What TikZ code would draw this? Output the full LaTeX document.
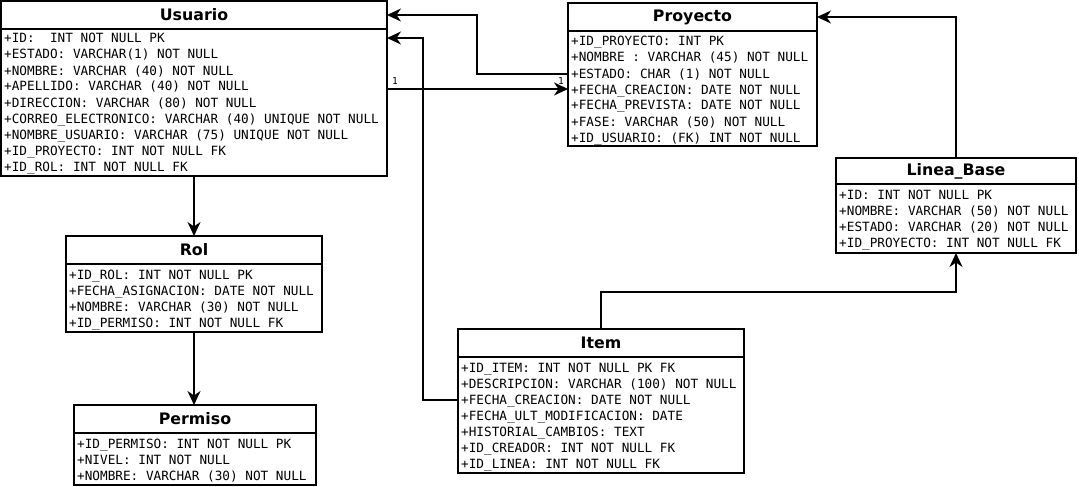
\documentclass[tikz,border=0pt]{standalone}
\usepackage{fontspec}
\setmainfont{DejaVu Sans}
\setsansfont{DejaVu Sans}
\setmonofont{DejaVu Sans Mono}
\usetikzlibrary{arrows.meta,calc}
\begin{document}
\begin{tikzpicture}[x=1pt,y=-1pt,
  box/.style={draw, line width=2pt, anchor=north west, inner sep=0pt, outer sep=0pt},
  ttl/.style={font=\fontsize{15.8}{18}\selectfont\bfseries},
  row/.style={anchor=base west, inner sep=0pt, font=\fontsize{12.7}{16}\selectfont\ttfamily},
  conn/.style={line width=2pt, -{Stealth[length=14pt,width=13pt,inset=4.5pt]}},
  card/.style={font=\fontsize{9.5}{10}\selectfont\ttfamily, inner sep=0pt}]
\useasboundingbox (0,0) rectangle (1079,487);

% Usuario
\node[box, ttl, minimum width=386pt, minimum height=28pt] (usuT) at (1,1) {Usuario};
\node[box, minimum width=386pt, minimum height=147pt] (usuB) at (usuT.south west) {};
\foreach \t [count=\i from 0] in {
  {+ID:\ \ INT NOT NULL PK},
  {+ESTADO: VARCHAR(1) NOT NULL},
  {+NOMBRE: VARCHAR (40) NOT NULL},
  {+APELLIDO: VARCHAR (40) NOT NULL},
  {+DIRECCION: VARCHAR (80) NOT NULL},
  {+CORREO\_ELECTRONICO: VARCHAR (40) UNIQUE NOT NULL},
  {+NOMBRE\_USUARIO: VARCHAR (75) UNIQUE NOT NULL},
  {+ID\_PROYECTO: INT NOT NULL FK},
  {+ID\_ROL: INT NOT NULL FK}}
  \node[row] (usu\i) at ($(usuB.north west)+(3,14+16*\i)$) {\t};

% Proyecto
\node[box, ttl, minimum width=249pt, minimum height=28pt] (proyT) at (568,3) {Proyecto};
\node[box, minimum width=249pt, minimum height=115pt] (proyB) at (proyT.south west) {};
\foreach \t [count=\i from 0] in {
  {+ID\_PROYECTO: INT PK},
  {+NOMBRE : VARCHAR (45) NOT NULL},
  {+ESTADO: CHAR (1) NOT NULL},
  {+FECHA\_CREACION: DATE NOT NULL},
  {+FECHA\_PREVISTA: DATE NOT NULL},
  {+FASE: VARCHAR (50) NOT NULL},
  {+ID\_USUARIO: (FK) INT NOT NULL}}
  \node[row] (proy\i) at ($(proyB.north west)+(3,15+16*\i)$) {\t};

% Linea_Base
\node[box, ttl, minimum width=240pt, minimum height=26pt] (linT) at (836,158) {Linea\_Base};
\node[box, minimum width=240pt, minimum height=69pt] (linB) at (linT.south west) {};
\foreach \t [count=\i from 0] in {
  {+ID: INT NOT NULL PK},
  {+NOMBRE: VARCHAR (50) NOT NULL},
  {+ESTADO: VARCHAR (20) NOT NULL},
  {+ID\_PROYECTO: INT NOT NULL FK}}
  \node[row] (lin\i) at ($(linB.north west)+(3,15+16*\i)$) {\t};

% Rol
\node[box, ttl, minimum width=256pt, minimum height=28pt] (rolT) at (66,236) {Rol};
\node[box, minimum width=256pt, minimum height=68pt] (rolB) at (rolT.south west) {};
\foreach \t [count=\i from 0] in {
  {+ID\_ROL: INT NOT NULL PK},
  {+FECHA\_ASIGNACION: DATE NOT NULL},
  {+NOMBRE: VARCHAR (30) NOT NULL},
  {+ID\_PERMISO: INT NOT NULL FK}}
  \node[row] (rol\i) at ($(rolB.north west)+(3,15+16*\i)$) {\t};

% Permiso
\node[box, ttl, minimum width=242pt, minimum height=28pt] (perT) at (74,405) {Permiso};
\node[box, minimum width=242pt, minimum height=52pt] (perB) at (perT.south west) {};
\foreach \t [count=\i from 0] in {
  {+ID\_PERMISO: INT NOT NULL PK},
  {+NIVEL: INT NOT NULL},
  {+NOMBRE: VARCHAR (30) NOT NULL}}
  \node[row] (per\i) at ($(perB.north west)+(3,15+16*\i)$) {\t};

% Item
\node[box, ttl, minimum width=286pt, minimum height=28pt] (itemT) at (458,329) {Item};
\node[box, minimum width=286pt, minimum height=116pt] (itemB) at (itemT.south west) {};
\foreach \t [count=\i from 0] in {
  {+ID\_ITEM: INT NOT NULL PK FK},
  {+DESCRIPCION: VARCHAR (100) NOT NULL},
  {+FECHA\_CREACION: DATE NOT NULL},
  {+FECHA\_ULT\_MODIFICACION: DATE},
  {+HISTORIAL\_CAMBIOS: TEXT},
  {+ID\_CREADOR: INT NOT NULL FK},
  {+ID\_LINEA: INT NOT NULL FK}}
  \node[row] (item\i) at ($(itemB.north west)+(3,15+16*\i)$) {\t};

% connectors
\draw[conn] (usuB.south) -- (usuB.south |- rolT.north);
\draw[conn] (rolB.south) -- (rolB.south |- perT.north);
\draw[conn] ($(proyB.north west)+(0,43)$) -- ++(-91,0) |- (usuT.east);
\draw[conn] ($(itemB.north west)+(0,43)$) -- ++(-35,0) |- ($(usuB.north east)+(0,9)$);
\coordinate (uP) at ($(usuB.north east)+(0,60)$);
\draw[conn] (uP) -- (uP -| proyB.west);
\node[card, anchor=south west] (c1) at ($(uP)+(5,-4)$) {1};
\node[card, anchor=south east] (c2) at ($(uP -| proyB.west)+(-4,-4)$) {1};
\draw[conn] (linT.north) |- (proyT.east);
\draw[conn] (itemT.north) -- ++(0,-37) -| (linB.south);
\end{tikzpicture}
\end{document}
